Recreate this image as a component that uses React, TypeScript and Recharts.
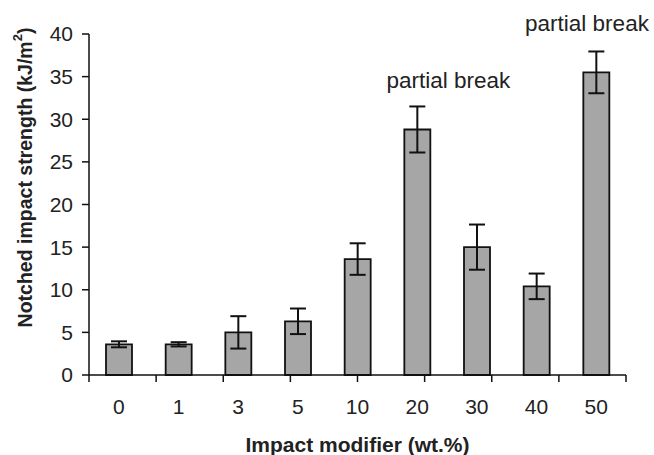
import React from 'react';
import { BarChart, Bar, XAxis, YAxis, ErrorBar, LabelList } from 'recharts';

const categories = ['0', '1', '3', '5', '10', '20', '30', '40', '50'];
const strength = [3.6, 3.6, 5.0, 6.3, 13.6, 28.8, 15.0, 10.4, 35.5];
const errors = [0.35, 0.25, 1.9, 1.5, 1.85, 2.7, 2.65, 1.5, 2.45];
const notes = ['', '', '', '', '', 'partial break', '', '', 'partial break'];
const yTicks = [0, 5, 10, 15, 20, 25, 30, 35, 40];
const edgeTicks = [0, 1, 2, 3, 4, 5, 6, 7, 8, 9];

const data = categories.map((c, i) => ({
  name: c,
  value: strength[i],
  err: errors[i],
  note: notes[i],
}));

const W = 654;
const H = 455;
const FONT = '"Liberation Sans", Arial, sans-serif';

const NoteLabel = (props: any) => {
  const { x, y, width, value } = props;
  if (!value) return null;
  // shifted right of the bar, but kept inside the picture
  const cx = Math.min(x + width / 2 + 31, W - 67);
  return (
    <text x={cx} y={y - 41} textAnchor="middle" fontSize={22.5} fill="#222" fontFamily={FONT}>
      {value}
    </text>
  );
};

const YTitle = (props: any) => {
  const vb = props.viewBox || { x: 0, y: 34, width: 89, height: 341 };
  const cx = 25;
  const cy = vb.y + vb.height / 2 - 27;
  return (
    <text
      x={cx}
      y={cy}
      transform={`rotate(-90, ${cx}, ${cy})`}
      textAnchor="middle"
      dominantBaseline="central"
      fontSize={19.5}
      fontWeight="bold"
      fill="#222"
      fontFamily={FONT}
    >
      Notched impact strength (kJ/m
      <tspan fontSize={13} dy={-8}>2</tspan>
      <tspan dy={8}>)</tspan>
    </text>
  );
};

export default function App() {
  return (
    <div style={{ position: 'absolute', left: 0, top: 0, background: '#fff' }}>
      <BarChart
        width={W}
        height={H}
        data={data}
        margin={{ top: 34, right: 28, left: 0, bottom: 0 }}
      >
        <XAxis
          xAxisId="a_edge"
          type="number"
          domain={[0, 9]}
          ticks={edgeTicks}
          tickFormatter={() => ''}
          height={1}
          tickSize={7}
          axisLine={{ stroke: '#111', strokeWidth: 1.5 }}
          tickLine={{ stroke: '#111', strokeWidth: 1.5 }}
        />
        <XAxis
          xAxisId="b_cat"
          dataKey="name"
          height={79}
          axisLine={false}
          tickLine={false}
          tickSize={8}
          tickMargin={15}
          interval={0}
          tick={{ fontSize: 21, fill: '#222', fontFamily: FONT }}
          label={{
            value: 'Impact modifier (wt.%)',
            position: 'insideBottom',
            offset: 3,
            fontSize: 21,
            fontWeight: 'bold',
            fill: '#222',
            fontFamily: FONT,
          }}
        />
        <YAxis
          width={89}
          domain={[0, 40]}
          ticks={yTicks}
          interval={0}
          tickSize={7}
          tickMargin={9}
          axisLine={{ stroke: '#111', strokeWidth: 1.5 }}
          tickLine={{ stroke: '#111', strokeWidth: 1.5 }}
          tick={{ fontSize: 21, fill: '#222', fontFamily: FONT }}
          label={<YTitle />}
        />
        <Bar
          xAxisId="b_cat"
          dataKey="value"
          barSize={26}
          fill="#a6a6a6"
          stroke="#111"
          strokeWidth={1.8}
          isAnimationActive={false}
        >
          <ErrorBar dataKey="err" width={8} stroke="#111" strokeWidth={2} direction="y" />
          <LabelList dataKey="note" content={<NoteLabel />} />
        </Bar>
      </BarChart>
    </div>
  );
}
